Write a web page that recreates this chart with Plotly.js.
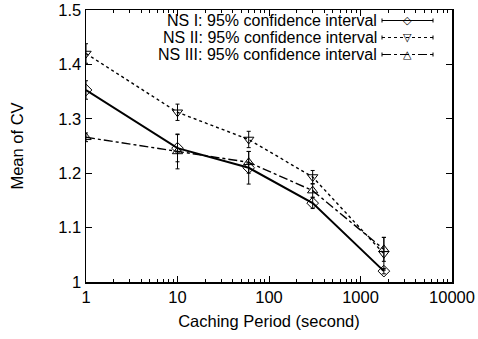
<!DOCTYPE html>
<html><head><meta charset="utf-8">
<script src="https://cdn.plot.ly/plotly-3.0.1.min.js"></script>
<style>html,body{margin:0;padding:0;background:#fff}#c{width:478px;height:339px}</style>
</head><body><div id="c"></div>
<script>
const period = [1, 10, 60, 300, 1800];
const seriesNames = ["NS I: 95% confidence interval", "NS II: 95% confidence interval", "NS III: 95% confidence interval"];
const nsI = [1.353, 1.246, 1.210, 1.145, 1.020];
const nsIErr = [0.017, 0.025, 0.030, 0.010, 0.005];
const nsII = [1.420, 1.312, 1.262, 1.193, 1.052];
const nsIIErr = [0.018, 0.015, 0.015, 0.012, 0.030];
const nsIII = [1.266, 1.240, 1.220, 1.168, 1.060];
const nsIIIErr = [0.008, 0.032, 0.020, 0.012, 0.022];
const xTickVals = [1, 10, 100, 1000, 10000];
const xTickText = ["1", "10", "100", "1000", "10000"];

const FONT = "Liberation Sans, Arial, Helvetica, sans-serif";
const FS = 16.5;
function tr(y, e, dash, sym) {
  return {x: period, y: y, type: 'scatter', mode: 'lines+markers',
    line: {color: '#000', width: dash === 'solid' ? 2 : 1.4, dash: dash},
    marker: {symbol: sym, size: 9, color: '#000', line: {width: 1, color: '#000'}},
    error_y: {type: 'data', array: e, visible: true, color: '#000', thickness: 1, width: 2},
    showlegend: false};
}
const data = [
  tr(nsI, nsIErr, 'solid', 'diamond-open'),
  tr(nsII, nsIIErr, 'dot', 'triangle-down-open'),
  tr(nsIII, nsIIIErr, 'dashdot', 'triangle-up-open')
];

// custom legend (text right-aligned, sample on the right)
const L = 86, R = 452, T = 10, B = 282;
const px = v => (v - L) / (R - L);
const py = v => (B - v) / (B - T);
const rows = [20.5, 37.5, 54.5];
const dashes = ['solid', 'dot', 'dashdot'];
const glyphs = ['◇', '▽', '△'];
const annotations = [], shapes = [];
rows.forEach((ry, i) => {
  annotations.push({xref: 'paper', yref: 'paper', x: px(378), y: py(ry), xanchor: 'right', yanchor: 'middle',
    text: seriesNames[i], showarrow: false, borderpad: 0, font: {family: FONT, size: 16, color: '#000'}});
  shapes.push({type: 'line', xref: 'paper', yref: 'paper', x0: px(382), x1: px(433), y0: py(ry), y1: py(ry),
    line: {color: '#000', width: 1, dash: dashes[i]}});
  [382, 433].forEach(xx => shapes.push({type: 'line', xref: 'paper', yref: 'paper', x0: px(xx), x1: px(xx),
    y0: py(ry - 2), y1: py(ry + 2), line: {color: '#000', width: 1}}));
  annotations.push({xref: 'paper', yref: 'paper', x: px(407.5), y: py(ry), xanchor: 'center', yanchor: 'middle',
    text: glyphs[i], showarrow: false, font: {family: 'DejaVu Sans', size: 11, color: '#000'}});
});

const layout = {
  width: 478, height: 339,
  margin: {l: L, r: 478 - R, t: T, b: 339 - B},
  paper_bgcolor: '#fff', plot_bgcolor: '#fff',
  font: {family: FONT, size: FS, color: '#000'},
  xaxis: {type: 'log', range: [0, 4], tickvals: xTickVals, ticktext: xTickText,
    ticks: 'inside', ticklen: 6, tickcolor: '#000', showgrid: false, zeroline: false,
    showline: true, linecolor: '#000', linewidth: 1.5, mirror: 'ticks',
    tickfont: {family: FONT, size: FS},
    minor: {ticks: 'inside', ticklen: 3, tickcolor: '#000', dtick: 'D1', showgrid: false},
    title: {text: 'Caching Period (second)', font: {family: FONT, size: FS}, standoff: 10}},
  yaxis: {range: [1, 1.5], dtick: 0.1, ticks: 'inside', ticklen: 6, tickcolor: '#000',
    showgrid: false, zeroline: false, showline: true, linecolor: '#000', linewidth: 1.5, mirror: 'ticks',
    tickfont: {family: FONT, size: FS},
    title: {text: 'Mean of CV', font: {family: FONT, size: FS}, standoff: 30}},
  annotations: annotations, shapes: shapes
};
Plotly.newPlot('c', data, layout, {staticPlot: true, displayModeBar: false});
</script></body></html>
